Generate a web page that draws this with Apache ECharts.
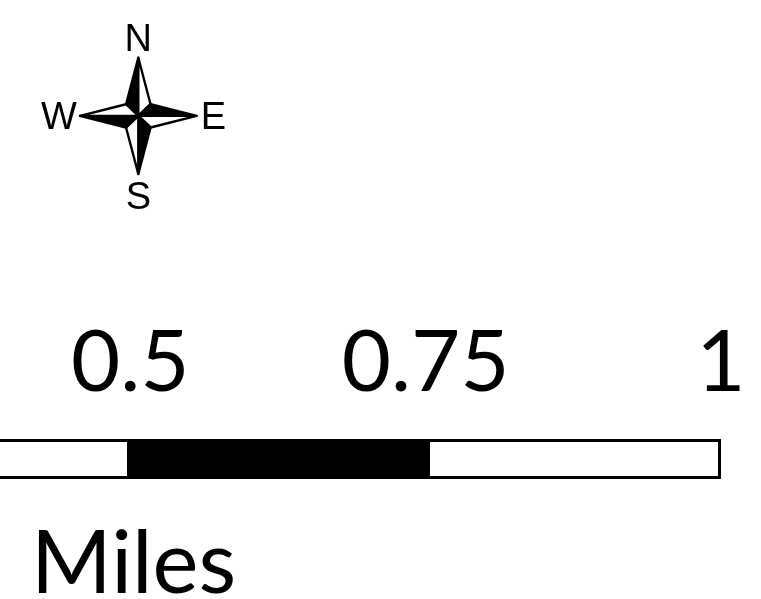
<!DOCTYPE html>
<html><head><meta charset="utf-8">
<style>html,body{margin:0;padding:0;background:#fff}#c{width:761px;height:599px}</style>
<script src="https://cdn.jsdelivr.net/npm/echarts@6/dist/echarts.min.js"></script>
</head><body><div id="c"></div>
<script>
// Scale bar
const scaleTicks = [0.25, 0.5, 0.75, 1];
const segmentLengths = [0.49972, 0.25141, 0.24887];
const segmentColors = ['#ffffff', '#000000', '#ffffff'];
const unitLabel = 'Miles';
// Compass rose (unit coordinates, centre = 0,0)
const rosePoints = [
  {tip:[0,1],  side:[-0.21,0.2],  fill:'#000'},
  {tip:[0,1],  side:[0.21,0.2],   fill:'#fff'},
  {tip:[1,0],  side:[0.21,0.2],   fill:'#000'},
  {tip:[1,0],  side:[0.21,-0.2],  fill:'#fff'},
  {tip:[0,-1], side:[0.21,-0.2],  fill:'#000'},
  {tip:[0,-1], side:[-0.21,-0.2], fill:'#fff'},
  {tip:[-1,0], side:[-0.21,-0.2], fill:'#000'},
  {tip:[-1,0], side:[-0.21,0.2],  fill:'#fff'}
];
const directions = [['N',0,1.29],['E',1.29,-0.05],['S',0,-1.42],['W',-1.36,-0.05]];

const chart = echarts.init(document.getElementById('c'), null, {renderer:'canvas'});
chart.setOption({
  animation:false,
  backgroundColor:'#fff',
  title:{text:unitLabel,left:31,top:513,padding:0,
    textStyle:{fontFamily:'Lato',fontWeight:'normal',fontSize:87,color:'#000',lineHeight:104}},
  grid:[
    {left:-165,right:40,top:439,height:40,containLabel:false,outerBoundsMode:'none'},
    {left:80,top:57.7,width:116.6,height:116.3,outerBoundsMode:'none'}
  ],
  xAxis:[
    {type:'value',gridIndex:0,position:'top',min:scaleTicks[0],max:scaleTicks[3],interval:0.25,
     axisLine:{show:false},axisTick:{show:false},splitLine:{show:false},
     axisLabel:{color:'#000',fontFamily:'Lato',fontSize:85,margin:33,hideOverlap:false,showMinLabel:true,showMaxLabel:true}},
    {type:'value',gridIndex:1,min:-1,max:1,show:false}
  ],
  yAxis:[
    {type:'category',gridIndex:0,data:['scale'],show:false},
    {type:'value',gridIndex:1,min:-1,max:1,show:false}
  ],
  series:[
    ...segmentLengths.map((v,i)=>({
      type:'bar',stack:'scale',xAxisIndex:0,yAxisIndex:0,barWidth:'100%',silent:true,
      data:[v],itemStyle:{color:segmentColors[i],borderColor:'#000',borderWidth:3}
    })),
    {type:'custom',xAxisIndex:1,yAxisIndex:1,clip:false,silent:true,
     data:rosePoints.map(p=>[p.tip[0],p.tip[1],p.side[0],p.side[1]]),
     encode:{x:[0,2],y:[1,3]},
     renderItem:(params,api)=>{
       const pts=[api.coord([0,0]),api.coord([api.value(0),api.value(1)]),api.coord([api.value(2),api.value(3)])];
       return {type:'polygon',shape:{points:pts},
         style:{fill:rosePoints[params.dataIndex].fill,stroke:'#000',lineWidth:2.4,lineJoin:'round'}};
     }},
    {type:'scatter',xAxisIndex:1,yAxisIndex:1,clip:false,silent:true,symbolSize:0,
     itemStyle:{opacity:1},
     data:directions.map(d=>({value:[d[1],d[2]],name:d[0]})),
     label:{show:true,position:'inside',formatter:'{b}',color:'#000',opacity:1,fontFamily:'Liberation Sans',fontSize:38}}
  ]
});
</script></body></html>
